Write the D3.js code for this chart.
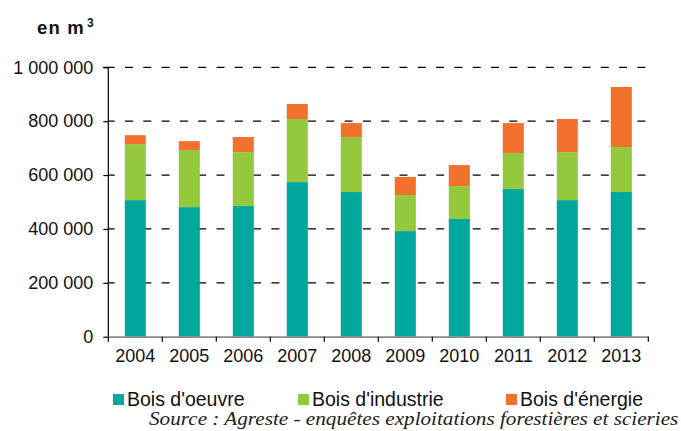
<!DOCTYPE html>
<html><head><meta charset="utf-8">
<script src="https://cdn.jsdelivr.net/npm/d3@7"></script>
<style>body{margin:0;background:#fff}svg{display:block}</style>
</head><body>
<svg id="c" width="681" height="431"></svg>
<script>
const years = ["2004","2005","2006","2007","2008","2009","2010","2011","2012","2013"];
const boisOeuvre   = [507000,481000,485000,574000,537000,392000,437000,548000,507000,537000];
const boisIndustrie= [208000,212000,200000,234000,204000,134000,122000,134000,178000,167000];
const boisEnergie  = [ 33000, 33000, 56000, 56000, 52000, 67000, 78000,111000,123000,223000];
const seriesNames = ["Bois d'oeuvre","Bois d'industrie","Bois d'énergie"];
const seriesColors = ["#00A79D","#95C93D","#F2712C"];
const yTicks = [0,200000,400000,600000,800000,1000000];
const yTickLabels = ["0","200 000","400 000","600 000","800 000","1 000 000"];

const svg = d3.select("#c");
const x0 = 108.3, x1 = 648.3, yTop = 67.3, yBot = 336.7;
const x = d3.scaleBand().domain(years).range([x0,x1]).paddingInner(0.61).paddingOuter(0.305);
const xb = d3.scaleBand().domain(years).range([x0,x1]);
const y = d3.scaleLinear().domain([0,1000000]).range([yBot,yTop]);
const font = "'Liberation Sans', Arial, sans-serif";

// gridlines
svg.append("g").selectAll("line").data(yTicks.filter(d=>d>0)).join("line")
  .attr("x1",x0).attr("x2",x1).attr("y1",d=>y(d)).attr("y2",d=>y(d))
  .attr("stroke","#000").attr("stroke-width",1.2)
  .attr("stroke-dasharray","8,10.3").attr("stroke-dashoffset",1.6);

// stacked bars
const table = years.map((yr,i)=>({year:yr, a:boisOeuvre[i], b:boisIndustrie[i], c:boisEnergie[i]}));
const stack = d3.stack().keys(["a","b","c"])(table);
svg.append("g").selectAll("g").data(stack).join("g")
  .attr("fill",(d,i)=>seriesColors[i])
  .selectAll("rect").data(d=>d).join("rect")
  .attr("x",d=>x(d.data.year)).attr("width",x.bandwidth())
  .attr("y",d=>y(d[1])).attr("height",d=>y(d[0])-y(d[1]));

// y axis
const ya = svg.append("g").attr("transform",`translate(${x0},0)`)
  .call(d3.axisLeft(y).tickValues(yTicks).tickFormat((d,i)=>yTickLabels[i]).tickSize(5).tickPadding(10));
ya.select(".domain").attr("stroke","#000").attr("stroke-width",1.2).attr("d",`M-5,${yTop}H0V${yBot}`);
ya.selectAll(".tick line").attr("stroke","#000").attr("stroke-width",1.2);
ya.selectAll("text").attr("font-family",font).attr("font-size",18).attr("fill","#111");

// x axis
const xa = svg.append("g").attr("transform",`translate(0,${yBot})`)
  .call(d3.axisBottom(xb).tickSize(0).tickPadding(13));
xa.select(".domain").attr("stroke","#888").attr("stroke-width",1.8);
xa.selectAll("text").attr("font-family",font).attr("font-size",18).attr("fill","#111");
svg.append("g").selectAll("line").data(d3.range(years.length+1)).join("line")
  .attr("x1",i=>x0+i*xb.step()).attr("x2",i=>x0+i*xb.step())
  .attr("y1",yBot).attr("y2",yBot+5).attr("stroke","#000").attr("stroke-width",1.2);

// title
svg.append("text").attr("x",37).attr("y",34).attr("font-family",font).attr("font-weight","bold")
  .attr("font-size",18.5).attr("letter-spacing",1.2).attr("fill","#111")
  .text("en m").append("tspan").attr("font-size",12).attr("dy",-7).attr("dx",2).text("3");

// legend
const legX = [113,298,506];
const lg = svg.append("g").selectAll("g").data(seriesNames).join("g")
  .attr("transform",(d,i)=>`translate(${legX[i]},394)`);
lg.append("rect").attr("width",11).attr("height",11).attr("fill",(d,i)=>seriesColors[i]);
lg.append("text").attr("x",14).attr("y",11.5).attr("font-family",font).attr("font-size",19.5)
  .attr("fill","#111").text(d=>d);

// source (horizontally stretched like the reference)
const src = svg.append("text").attr("x",0).attr("y",0)
  .attr("font-family","'Liberation Serif', 'Times New Roman', serif")
  .attr("font-style","italic").attr("font-size",18.5).attr("fill","#222")
  .text("Source : Agreste - enquêtes exploitations forestières et scieries");
const len = src.node().getComputedTextLength();
src.attr("transform",`translate(149,425) scale(${530/len},1)`);
</script>
</body></html>
